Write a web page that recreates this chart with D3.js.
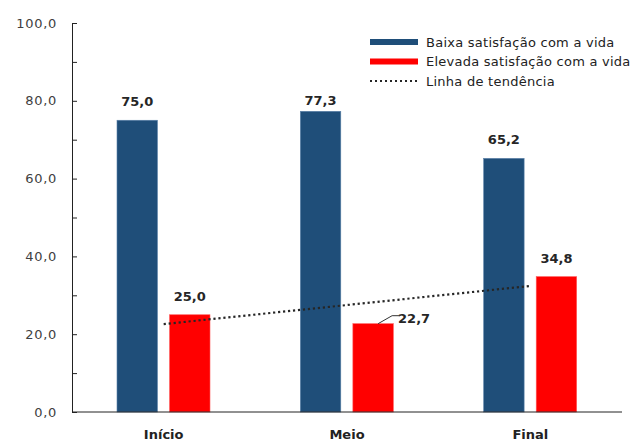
<!DOCTYPE html>
<html lang="pt">
<head>
    <meta charset="UTF-8">
    <title>Satisfação com a vida</title>
    <style>
        body {
            margin: 0;
            background-color: #fff;
            font-family: 'DejaVu Sans', Verdana, sans-serif;
        }
        .tick text {
            fill: #404040;
        }
    </style>
    <script src="https://cdn.jsdelivr.net/npm/d3@7"></script>
</head>
<body>
    <div id="chart"></div>
    <script>
        const categories = ["Início", "Meio", "Final"];
        const seriesNames = ["Baixa satisfação com a vida", "Elevada satisfação com a vida"];
        const lowValues = [75.0, 77.3, 65.2];
        const highValues = [25.0, 22.7, 34.8];
        const yTicks = [0, 20, 40, 60, 80, 100];
        const trendLabel = "Linha de tendência";

        const colors = ["#1F4E79", "#FF0000"];
        const width = 634;
        const height = 443;
        const margin = { top: 23, right: 12, bottom: 31, left: 72 };

        const svg = d3.select("#chart").append("svg")
            .attr("width", width)
            .attr("height", height);

        const y = d3.scaleLinear()
            .domain([0, 100])
            .range([height - margin.bottom, margin.top]);

        const x0 = d3.scaleBand()
            .domain(categories)
            .range([margin.left, width - margin.right])
            .padding(0);

        const x1 = d3.scaleBand()
            .domain(seriesNames)
            .range([45, 138])
            .paddingInner(0.23);

        const fmt = v => d3.format(".1f")(v).replace(".", ",");

        // y axis: ticks every 10, labels every 20
        const yAxis = d3.axisLeft(y)
            .tickValues(d3.range(0, 101, 10))
            .tickSize(-5)
            .tickPadding(15)
            .tickFormat(d => yTicks.includes(d) ? fmt(d) : "");

        svg.append("g")
            .attr("transform", `translate(${margin.left},0)`)
            .call(yAxis)
            .call(g => g.selectAll("text")
                .attr("font-size", 13)
                .attr("letter-spacing", "0.7px")
                .attr("font-family", "'DejaVu Sans', sans-serif"))
            .call(g => g.selectAll("line, path").attr("stroke", "#222"));

        const rows = categories.map((c, i) => ({ cat: c, values: [lowValues[i], highValues[i]] }));

        const groups = svg.append("g").selectAll("g")
            .data(rows)
            .join("g")
            .attr("transform", d => `translate(${x0(d.cat)},0)`);

        groups.selectAll("rect")
            .data(d => d.values.map((v, j) => ({ name: seriesNames[j], v, j })))
            .join("rect")
            .attr("x", d => x1(d.name))
            .attr("width", x1.bandwidth())
            .attr("y", d => y(d.v))
            .attr("height", d => y(0) - y(d.v))
            .attr("fill", d => colors[d.j])
            .attr("stroke", d => d.j === 0 ? "#5b82aa" : "#ff5a5a")
            .attr("stroke-width", 0.6);

        // x baseline
        svg.append("line")
            .attr("x1", margin.left).attr("x2", width - margin.right)
            .attr("y1", y(0)).attr("y2", y(0))
            .attr("stroke", "#222");

        // category labels
        svg.append("g").selectAll("text")
            .data(categories)
            .join("text")
            .attr("x", d => x0(d) + x0.bandwidth() / 2)
            .attr("y", y(0) + 27)
            .attr("text-anchor", "middle")
            .attr("font-size", 13)
            .attr("font-weight", "bold")
            .attr("fill", "#222")
            .text(d => d);

        // value labels (77,3 sits lower, 22,7 is moved aside with a leader line)
        const labelData = [];
        rows.forEach((r, i) => r.values.forEach((v, j) => labelData.push({ cat: r.cat, name: seriesNames[j], v, i, j })));
        const nudge = { "1-0": { dx: 0, dy: 8 }, "1-1": { dx: 41, dy: 13 } };

        svg.append("g").selectAll("text")
            .data(labelData)
            .join("text")
            .attr("x", d => x0(d.cat) + x1(d.name) + x1.bandwidth() / 2 + (nudge[d.i + "-" + d.j] || { dx: 0 }).dx)
            .attr("y", d => y(d.v) - 14 + (nudge[d.i + "-" + d.j] || { dy: 0 }).dy)
            .attr("text-anchor", "middle")
            .attr("font-size", 13)
            .attr("font-weight", "bold")
            .attr("fill", "#262626")
            .text(d => fmt(d.v));

        // leader line for 22,7
        const lx = x0("Meio") + x1(seriesNames[1]) + x1.bandwidth() / 2;
        const ly = y(highValues[1]);
        svg.append("path")
            .attr("d", `M${lx + 5},${ly} L${lx + 19},${ly - 8} L${lx + 27},${ly - 8}`)
            .attr("fill", "none")
            .attr("stroke", "#333")
            .attr("stroke-width", 1);

        // linear trend of the high-satisfaction series
        const xs = highValues.map((_, i) => i + 1);
        const mx = d3.mean(xs), my = d3.mean(highValues);
        const slope = d3.sum(xs, (xv, i) => (xv - mx) * (highValues[i] - my)) / d3.sum(xs, xv => (xv - mx) ** 2);
        const icpt = my - slope * mx;
        const trend = categories.map((c, i) => [x0(c) + x0.bandwidth() / 2, y(icpt + slope * (i + 1))]);

        svg.append("path")
            .attr("d", d3.line()([trend[0], trend[trend.length - 1]]))
            .attr("fill", "none")
            .attr("stroke", "#262626")
            .attr("stroke-width", 2.2)
            .attr("stroke-dasharray", "2.2,2.8");

        // legend
        const legend = svg.append("g").attr("transform", "translate(370,42)");
        const legendItems = [
            { label: seriesNames[0], type: "rect", color: colors[0] },
            { label: seriesNames[1], type: "rect", color: colors[1] },
            { label: trendLabel, type: "line" }
        ];
        legendItems.forEach((it, i) => {
            const g = legend.append("g").attr("transform", `translate(0,${i * 19.5})`);
            if (it.type === "rect") {
                g.append("rect").attr("x", 0).attr("y", -3).attr("width", 48).attr("height", 6).attr("fill", it.color);
            } else {
                g.append("line").attr("x1", 0).attr("x2", 48).attr("y1", 0).attr("y2", 0)
                    .attr("stroke", "#262626").attr("stroke-width", 2).attr("stroke-dasharray", "2,3");
            }
            g.append("text")
                .attr("x", 56)
                .attr("y", 0)
                .attr("dy", "0.35em")
                .attr("font-size", 13)
                .attr("letter-spacing", "0.25px")
                .attr("fill", "#222")
                .text(it.label);
        });
    </script>
</body>
</html>
